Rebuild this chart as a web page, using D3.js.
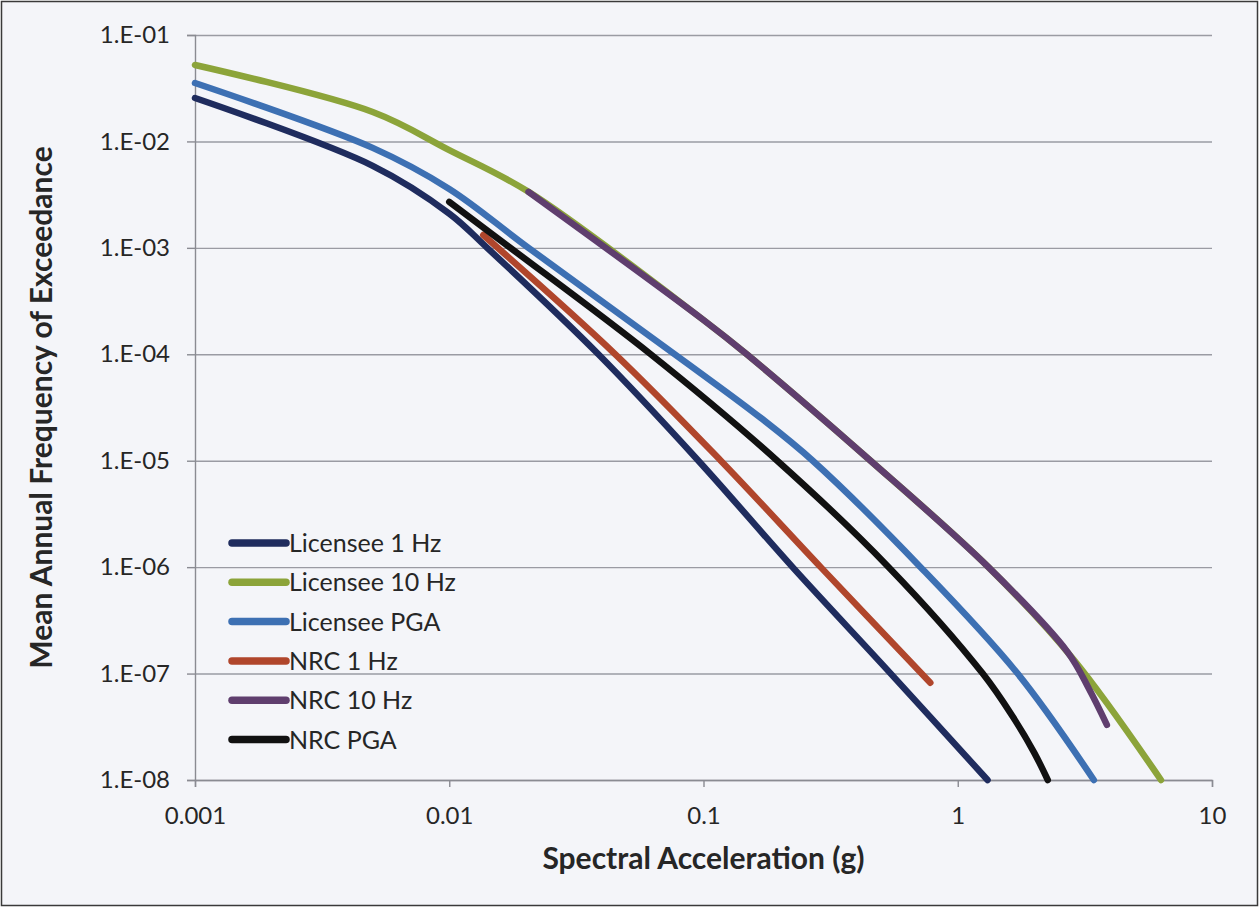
<!DOCTYPE html>
<html>
<head>
<meta charset="utf-8">
<script src="https://cdn.jsdelivr.net/npm/d3@7"></script>
<style>
  html, body { margin: 0; padding: 0; background: #ffffff; }
  svg { display: block; }
  text { font-family: Lato, "Open Sans", sans-serif; }
</style>
</head>
<body>
<svg id="chart" width="1259" height="907"></svg>
<script>
// ---- data (x = spectral acceleration g, y = mean annual frequency of exceedance) ----
const seriesNames = ["Licensee 1 Hz", "Licensee 10 Hz", "Licensee PGA", "NRC 1 Hz", "NRC 10 Hz", "NRC PGA"];
const seriesColors = ["#1f2c5e", "#8ca43a", "#3d70b3", "#b0462c", "#5f3e6e", "#111111"];

const licensee1Hz = [
  [0.001, 0.0256], [0.005, 0.0059], [0.01, 0.0021], [0.0141, 1e-3], [0.0386, 1e-4],
  [0.0955, 1e-5], [0.224, 1e-6], [0.545, 1e-7], [1.31, 1e-8]
];
const licensee10Hz = [
  [0.001, 0.0523], [0.005, 0.0189], [0.01, 0.0083], [0.0205, 0.00336], [0.1, 2.1e-4],
  [0.148, 1e-4], [0.454, 1e-5], [1.32, 1e-6], [2.86, 1.35e-7], [6.3, 1e-8]
];
const licenseePGA = [
  [0.001, 0.0354], [0.005, 0.0087], [0.01, 0.00358], [0.0205, 1e-3], [0.089, 7.8e-5],
  [0.1675, 2.54e-5], [0.269, 1e-5], [0.714, 1e-6], [1.72, 1e-7], [3.43, 1e-8]
];
const nrc1Hz = [
  [0.0136, 1.32e-3], [0.045, 1e-4], [0.117, 1e-5], [0.289, 1e-6], [0.78, 8.2e-8]
];
const nrc10Hz = [
  [0.0205, 0.00336], [0.1, 2.1e-4], [0.148, 1e-4], [0.454, 1e-5], [1.32, 1e-6],
  [2.7, 1.6e-7], [3.28, 7.2e-8], [3.86, 3.3e-8]
];
const nrcPGA = [
  [0.01, 0.0027], [0.0174, 1e-3], [0.062, 1e-4], [0.195, 1e-5], [0.535, 1e-6],
  [1.254, 1e-7], [1.65, 3.9e-8], [2.0, 1.8e-8], [2.26, 1e-8]
];

const xTickValues = [0.001, 0.01, 0.1, 1, 10];
const xTickLabels = ["0.001", "0.01", "0.1", "1", "10"];
const yTickValues = [1e-1, 1e-2, 1e-3, 1e-4, 1e-5, 1e-6, 1e-7, 1e-8];
const yTickLabels = ["1.E-01", "1.E-02", "1.E-03", "1.E-04", "1.E-05", "1.E-06", "1.E-07", "1.E-08"];

const xTitle = "Spectral Acceleration (g)";
const yTitle = "Mean Annual Frequency of Exceedance";

// ---- layout ----
const W = 1259, H = 907;
const plot = { left: 195, right: 1212, top: 35, bottom: 780 };
const textColor = "#262626";
const axisColor = "#8a8b92";

const svg = d3.select("#chart");

// outer chart frame
svg.append("rect")
  .attr("x", 1.5).attr("y", 1.5).attr("width", W - 3).attr("height", H - 3)
  .attr("fill", "#f4f5f9").attr("stroke", "#3a3a3a").attr("stroke-width", 1.5);

const x = d3.scaleLog().domain([0.001, 10]).range([plot.left, plot.right]);
const y = d3.scaleLog().domain([1e-8, 1e-1]).range([plot.bottom, plot.top]);

// horizontal gridlines
const grid = svg.append("g")
  .attr("transform", `translate(${plot.left},0)`)
  .call(d3.axisLeft(y).tickValues(yTickValues).tickSize(-(plot.right - plot.left)).tickFormat(""));
grid.select(".domain").remove();
grid.selectAll(".tick line").attr("stroke", "#9a9ba3").attr("stroke-width", 1.4);

// y axis
const yAxis = svg.append("g")
  .attr("transform", `translate(${plot.left},0)`)
  .call(d3.axisLeft(y).tickValues(yTickValues).tickSize(8).tickPadding(17)
    .tickFormat(d => yTickLabels[yTickValues.indexOf(d)]));
yAxis.select(".domain").attr("stroke", axisColor).attr("stroke-width", 1.4);
yAxis.selectAll(".tick line").attr("stroke", axisColor).attr("stroke-width", 1.4);
yAxis.selectAll(".tick text")
  .attr("fill", textColor).style("font-size", "24px")
  .style("font-family", "Lato, sans-serif");

// x axis
const xAxis = svg.append("g")
  .attr("transform", `translate(0,${plot.bottom})`)
  .call(d3.axisBottom(x).tickValues(xTickValues).tickSize(7).tickPadding(20)
    .tickFormat(d => xTickLabels[xTickValues.indexOf(d)]));
xAxis.select(".domain").attr("stroke", axisColor).attr("stroke-width", 1.4);
xAxis.selectAll(".tick line").attr("stroke", axisColor).attr("stroke-width", 1.4);
xAxis.selectAll(".tick text")
  .attr("fill", textColor).style("font-size", "24px")
  .style("font-family", "Lato, sans-serif");

// series lines
const allSeries = [licensee1Hz, licensee10Hz, licenseePGA, nrc1Hz, nrc10Hz, nrcPGA];
const line = d3.line()
  .x(d => x(d[0]))
  .y(d => y(d[1]))
  .curve(d3.curveCatmullRom.alpha(0.5));

svg.append("g").selectAll("path")
  .data(allSeries)
  .join("path")
  .attr("d", d => line(d))
  .attr("fill", "none")
  .attr("stroke", (d, i) => seriesColors[i])
  .attr("stroke-width", 6.5)
  .attr("stroke-linecap", "round")
  .attr("stroke-linejoin", "round");

// legend
const legend = svg.append("g").attr("transform", "translate(229,543)");
const items = legend.selectAll("g")
  .data(seriesNames)
  .join("g")
  .attr("transform", (d, i) => `translate(0,${i * 39.3})`);
items.append("line")
  .attr("x1", 3).attr("x2", 57).attr("y1", 0).attr("y2", 0)
  .attr("stroke", (d, i) => seriesColors[i])
  .attr("stroke-width", 7.5).attr("stroke-linecap", "round");
items.append("text")
  .attr("x", 60).attr("y", 0).attr("dy", "0.36em")
  .attr("fill", textColor).style("font-size", "25px")
  .text(d => d);

// axis titles
svg.append("text")
  .attr("x", (plot.left + plot.right) / 2).attr("y", 869)
  .attr("text-anchor", "middle")
  .attr("fill", textColor).style("font-size", "30px").style("font-weight", "bold")
  .text(xTitle);

svg.append("text")
  .attr("transform", `translate(52,${(plot.top + plot.bottom) / 2}) rotate(-90)`)
  .attr("text-anchor", "middle")
  .attr("fill", textColor).style("font-size", "30px").style("font-weight", "bold")
  .text(yTitle);
</script>
</body>
</html>
